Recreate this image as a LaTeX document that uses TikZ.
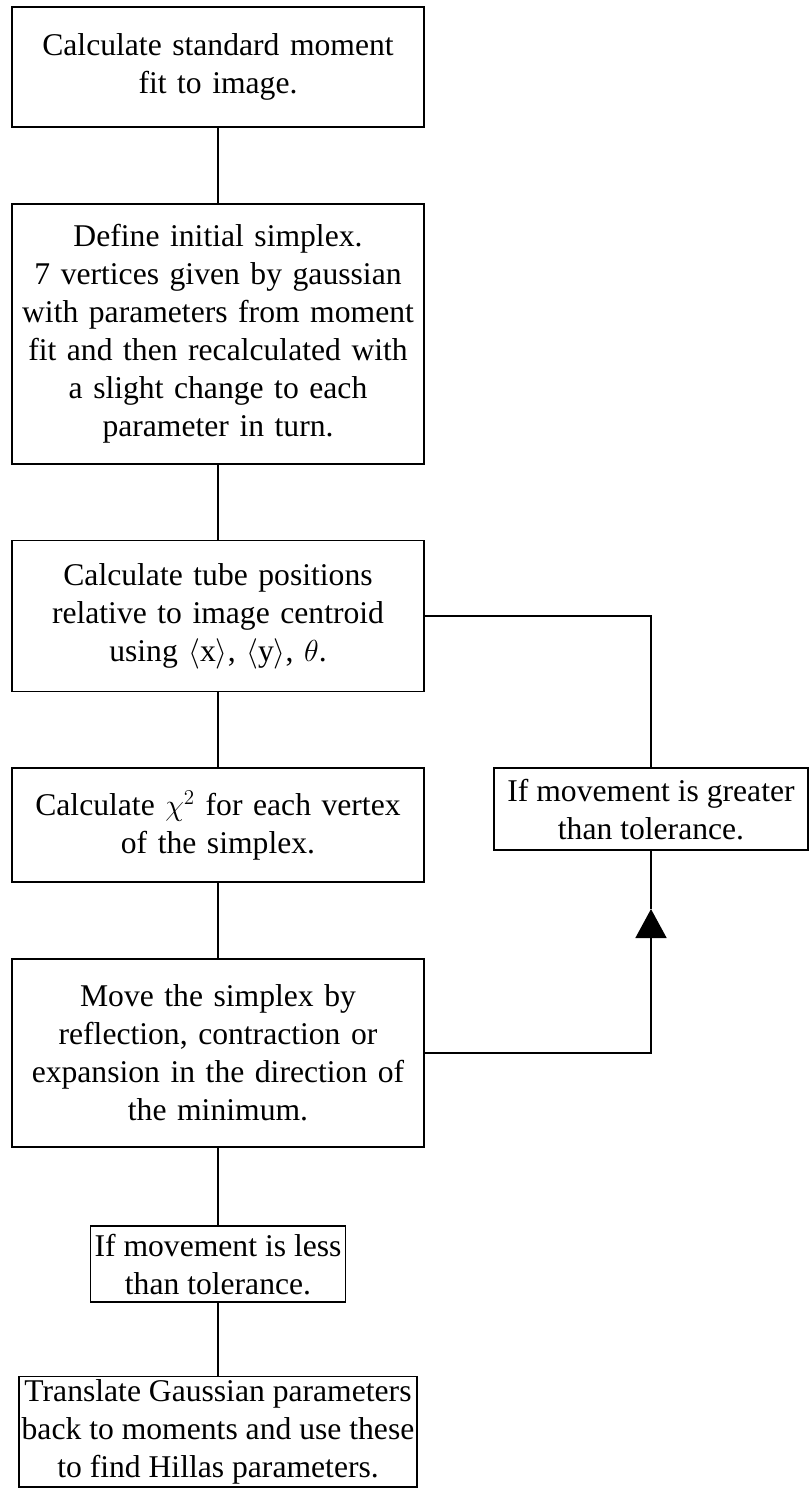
\documentclass[tikz,border=0pt]{standalone}
\usepackage{fontspec}
\setmainfont{Liberation Serif}
\usetikzlibrary{arrows.meta,positioning}

\begin{document}
\begin{tikzpicture}[node distance=1.5cm, auto,
  stepbox/.style={draw=black,line width=1pt,text width=8cm,inner xsep=0.12cm,align=center,font=\fontsize{18}{21.6}\selectfont},
  condbox/.style={draw=black,line width=1pt,inner xsep=0.05cm,inner ysep=0pt,align=center,font=\fontsize{18}{21.6}\selectfont},
  link/.style={line width=1pt}]

\useasboundingbox (0,0) rectangle (16.16,-29.82);

%main column, top to bottom
\node[stepbox,minimum height=2.4cm,anchor=north] (moment) at (4.36,-0.12)
  {Calculate standard moment\\ fit to image.};
\node[stepbox,minimum height=5.2cm,below=of moment] (simplex)
  {Define initial simplex.\\ 7 vertices given by gaussian\\ with parameters from moment\\ fit and then recalculated with\\ a slight change to each\\ parameter in turn.};
\node[stepbox,minimum height=3.02cm,below=of simplex] (tubes)
  {Calculate tube positions\\ relative to image centroid\\ using $\langle$x$\rangle$, $\langle$y$\rangle$, $\theta$.};
\node[stepbox,minimum height=2.28cm,below=of tubes] (chi)
  {Calculate $\chi^{2}$ for each vertex\\ of the simplex.};
\node[stepbox,minimum height=3.76cm,below=of chi] (move)
  {Move the simplex by\\ reflection, contraction or\\ expansion in the direction of\\ the minimum.};

%exit condition and last step
\node[condbox,minimum width=5.1cm,minimum height=1.52cm,below=1.55cm of move] (less)
  {If movement is less\\ than tolerance.};
\node[condbox,inner ysep=0.06cm,below=1.45cm of less] (hillas)
  {Translate Gaussian parameters\\ back to moments and use these\\ to find Hillas parameters.};

%loop condition on the right
\coordinate (loopx) at (13.02,0);
\node[condbox,minimum width=6.28cm,minimum height=1.64cm,anchor=north] (greater) at (loopx |- chi.north)
  {If movement is greater\\ than tolerance.};
\coordinate[below=1.16cm of greater] (tip);

%links
\draw[link] (moment) -- (simplex);
\draw[link] (simplex) -- (tubes);
\draw[link] (tubes) -- (chi);
\draw[link] (chi) -- (move);
\draw[link] (move) -- (less);
\draw[link] (less) -- (hillas);
\draw[link] (tubes.east) -| (greater.north);
\draw[link,-{Triangle[width=0.62cm,length=0.58cm]}] (move.east) -| (tip);
\draw[link] (tip) -- (greater.south);

\end{tikzpicture}
\end{document}
